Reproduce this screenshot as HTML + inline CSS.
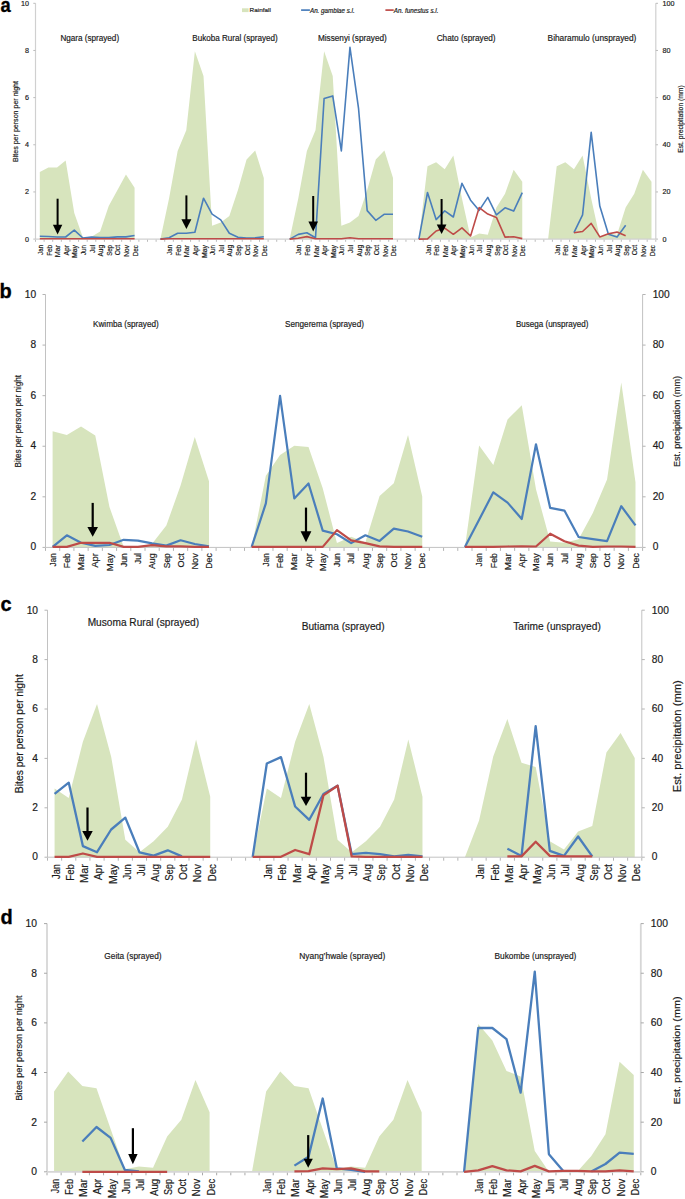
<!DOCTYPE html>
<html><head><meta charset="utf-8"><title>Figure</title>
<style>
html,body{margin:0;padding:0;background:#fff;}
body{width:685px;height:1199px;overflow:hidden;}
svg{display:block;font-family:"Liberation Sans",sans-serif;}
text{stroke:#1a1a1a;stroke-width:0.18px;paint-order:stroke;}
text.lbl{stroke:#000;stroke-width:0.3px;}
</style></head><body>
<svg width="685" height="1199" viewBox="0 0 685 1199">
<rect width="685" height="1199" fill="#fff"/>
<polygon fill="#d7e4bd" points="39.81,239.1 39.81,171.9 48.42,167.5 57.04,167.5 65.65,160.5 74.27,213 82.88,237.6 91.5,236.7 100.11,231.5 108.73,206 117.35,190.3 125.96,174.5 134.58,187.7 134.58,239.1"/>
<polygon fill="#d7e4bd" points="160.42,239.1 169.04,198.6 177.65,150.9 186.27,130.3 194.88,51.2 203.5,76.1 212.11,225.7 220.73,222.5 229.34,216 237.96,190 246.57,159.6 255.19,150.5 263.8,178 263.8,239.1"/>
<polygon fill="#d7e4bd" points="289.65,239.1 298.27,198.6 306.88,150.9 315.5,130.3 324.11,51.2 332.73,76.1 341.34,225.7 349.96,222.5 358.57,216 367.19,190 375.8,159.6 384.42,150.5 393.03,178 393.03,239.1"/>
<polygon fill="#d7e4bd" points="418.88,239.1 427.5,166.2 436.11,162.3 444.73,169.3 453.34,155.4 461.96,198.5 470.57,237.5 479.19,233.6 487.8,234.7 496.42,207.6 505.03,193.7 513.65,169.7 522.26,181.8 522.26,239.1"/>
<polygon fill="#d7e4bd" points="548.11,239.1 556.72,166.2 565.34,162.3 573.95,169.3 582.57,155.4 591.19,198.5 599.8,237.5 608.42,233.6 617.03,234.7 625.65,207.6 634.26,193.7 642.88,169.7 651.49,181.8 651.49,239.1"/>
<g stroke="#d0d0d0" stroke-width="1.2" fill="none">
<line x1="35.5" y1="3.3" x2="35.5" y2="239.1"/>
<line x1="655.8" y1="3.3" x2="655.8" y2="239.1"/>
<line x1="35.5" y1="239.1" x2="655.8" y2="239.1"/>
</g><g stroke="#bcbcbc" stroke-width="1" fill="none">
<line x1="33.3" y1="239.1" x2="35.5" y2="239.1"/>
<line x1="655.8" y1="239.1" x2="658" y2="239.1"/>
<line x1="33.3" y1="191.94" x2="35.5" y2="191.94"/>
<line x1="655.8" y1="191.94" x2="658" y2="191.94"/>
<line x1="33.3" y1="144.78" x2="35.5" y2="144.78"/>
<line x1="655.8" y1="144.78" x2="658" y2="144.78"/>
<line x1="33.3" y1="97.62" x2="35.5" y2="97.62"/>
<line x1="655.8" y1="97.62" x2="658" y2="97.62"/>
<line x1="33.3" y1="50.46" x2="35.5" y2="50.46"/>
<line x1="655.8" y1="50.46" x2="658" y2="50.46"/>
<line x1="33.3" y1="3.3" x2="35.5" y2="3.3"/>
<line x1="655.8" y1="3.3" x2="658" y2="3.3"/>
<line x1="35.5" y1="239.7" x2="35.5" y2="241.8"/>
<line x1="44.12" y1="239.7" x2="44.12" y2="241.8"/>
<line x1="52.73" y1="239.7" x2="52.73" y2="241.8"/>
<line x1="61.35" y1="239.7" x2="61.35" y2="241.8"/>
<line x1="69.96" y1="239.7" x2="69.96" y2="241.8"/>
<line x1="78.58" y1="239.7" x2="78.58" y2="241.8"/>
<line x1="87.19" y1="239.7" x2="87.19" y2="241.8"/>
<line x1="95.81" y1="239.7" x2="95.81" y2="241.8"/>
<line x1="104.42" y1="239.7" x2="104.42" y2="241.8"/>
<line x1="113.04" y1="239.7" x2="113.04" y2="241.8"/>
<line x1="121.65" y1="239.7" x2="121.65" y2="241.8"/>
<line x1="130.27" y1="239.7" x2="130.27" y2="241.8"/>
<line x1="138.88" y1="239.7" x2="138.88" y2="241.8"/>
<line x1="147.5" y1="239.7" x2="147.5" y2="241.8"/>
<line x1="156.11" y1="239.7" x2="156.11" y2="241.8"/>
<line x1="164.73" y1="239.7" x2="164.73" y2="241.8"/>
<line x1="173.34" y1="239.7" x2="173.34" y2="241.8"/>
<line x1="181.96" y1="239.7" x2="181.96" y2="241.8"/>
<line x1="190.57" y1="239.7" x2="190.57" y2="241.8"/>
<line x1="199.19" y1="239.7" x2="199.19" y2="241.8"/>
<line x1="207.81" y1="239.7" x2="207.81" y2="241.8"/>
<line x1="216.42" y1="239.7" x2="216.42" y2="241.8"/>
<line x1="225.04" y1="239.7" x2="225.04" y2="241.8"/>
<line x1="233.65" y1="239.7" x2="233.65" y2="241.8"/>
<line x1="242.27" y1="239.7" x2="242.27" y2="241.8"/>
<line x1="250.88" y1="239.7" x2="250.88" y2="241.8"/>
<line x1="259.5" y1="239.7" x2="259.5" y2="241.8"/>
<line x1="268.11" y1="239.7" x2="268.11" y2="241.8"/>
<line x1="276.73" y1="239.7" x2="276.73" y2="241.8"/>
<line x1="285.34" y1="239.7" x2="285.34" y2="241.8"/>
<line x1="293.96" y1="239.7" x2="293.96" y2="241.8"/>
<line x1="302.57" y1="239.7" x2="302.57" y2="241.8"/>
<line x1="311.19" y1="239.7" x2="311.19" y2="241.8"/>
<line x1="319.8" y1="239.7" x2="319.8" y2="241.8"/>
<line x1="328.42" y1="239.7" x2="328.42" y2="241.8"/>
<line x1="337.03" y1="239.7" x2="337.03" y2="241.8"/>
<line x1="345.65" y1="239.7" x2="345.65" y2="241.8"/>
<line x1="354.27" y1="239.7" x2="354.27" y2="241.8"/>
<line x1="362.88" y1="239.7" x2="362.88" y2="241.8"/>
<line x1="371.5" y1="239.7" x2="371.5" y2="241.8"/>
<line x1="380.11" y1="239.7" x2="380.11" y2="241.8"/>
<line x1="388.73" y1="239.7" x2="388.73" y2="241.8"/>
<line x1="397.34" y1="239.7" x2="397.34" y2="241.8"/>
<line x1="405.96" y1="239.7" x2="405.96" y2="241.8"/>
<line x1="414.57" y1="239.7" x2="414.57" y2="241.8"/>
<line x1="423.19" y1="239.7" x2="423.19" y2="241.8"/>
<line x1="431.8" y1="239.7" x2="431.8" y2="241.8"/>
<line x1="440.42" y1="239.7" x2="440.42" y2="241.8"/>
<line x1="449.03" y1="239.7" x2="449.03" y2="241.8"/>
<line x1="457.65" y1="239.7" x2="457.65" y2="241.8"/>
<line x1="466.26" y1="239.7" x2="466.26" y2="241.8"/>
<line x1="474.88" y1="239.7" x2="474.88" y2="241.8"/>
<line x1="483.49" y1="239.7" x2="483.49" y2="241.8"/>
<line x1="492.11" y1="239.7" x2="492.11" y2="241.8"/>
<line x1="500.72" y1="239.7" x2="500.72" y2="241.8"/>
<line x1="509.34" y1="239.7" x2="509.34" y2="241.8"/>
<line x1="517.96" y1="239.7" x2="517.96" y2="241.8"/>
<line x1="526.57" y1="239.7" x2="526.57" y2="241.8"/>
<line x1="535.19" y1="239.7" x2="535.19" y2="241.8"/>
<line x1="543.8" y1="239.7" x2="543.8" y2="241.8"/>
<line x1="552.42" y1="239.7" x2="552.42" y2="241.8"/>
<line x1="561.03" y1="239.7" x2="561.03" y2="241.8"/>
<line x1="569.65" y1="239.7" x2="569.65" y2="241.8"/>
<line x1="578.26" y1="239.7" x2="578.26" y2="241.8"/>
<line x1="586.88" y1="239.7" x2="586.88" y2="241.8"/>
<line x1="595.49" y1="239.7" x2="595.49" y2="241.8"/>
<line x1="604.11" y1="239.7" x2="604.11" y2="241.8"/>
<line x1="612.72" y1="239.7" x2="612.72" y2="241.8"/>
<line x1="621.34" y1="239.7" x2="621.34" y2="241.8"/>
<line x1="629.95" y1="239.7" x2="629.95" y2="241.8"/>
<line x1="638.57" y1="239.7" x2="638.57" y2="241.8"/>
<line x1="647.18" y1="239.7" x2="647.18" y2="241.8"/>
<line x1="655.8" y1="239.7" x2="655.8" y2="241.8"/>
</g>
<polyline fill="none" stroke="#4a7ebb" stroke-width="1.6" stroke-linejoin="round" points="39.81,236.2 48.42,236.5 57.04,237 65.65,237 74.27,230.2 82.88,238 91.5,237 100.11,237.6 108.73,237.6 117.35,236.9 125.96,236.9 134.58,235.5"/>
<polyline fill="none" stroke="#4a7ebb" stroke-width="1.6" stroke-linejoin="round" points="160.42,239.1 169.04,237.7 177.65,233.3 186.27,233.3 194.88,232.2 203.5,198.2 212.11,214.2 220.73,219.9 229.34,233.3 237.96,237.2 246.57,238.1 255.19,237.7 263.8,236.8"/>
<polyline fill="none" stroke="#4a7ebb" stroke-width="1.6" stroke-linejoin="round" points="289.65,239.1 298.27,234.4 306.88,232.7 315.5,237.7 324.11,98.5 332.73,95.9 341.34,150.9 349.96,47.3 358.57,108.7 367.19,210.6 375.8,220.3 384.42,214.2 393.03,214.2"/>
<polyline fill="none" stroke="#4a7ebb" stroke-width="1.6" stroke-linejoin="round" points="418.88,239.1 427.5,192.5 436.11,219.6 444.73,210.9 453.34,217 461.96,183.3 470.57,200.2 479.19,210.4 487.8,197.4 496.42,214.8 505.03,207.8 513.65,211.1 522.26,192.7"/>
<polyline fill="none" stroke="#4a7ebb" stroke-width="1.6" stroke-linejoin="round" points="573.95,232.7 582.57,214.8 591.19,132.4 599.8,206.1 608.42,234.3 617.03,237.1 625.65,225.2"/>
<polyline fill="none" stroke="#be4b48" stroke-width="1.6" stroke-linejoin="round" points="39.81,238.8 48.42,238.8 57.04,238.8 65.65,238.8 74.27,238.8 82.88,238.8 91.5,238.8 100.11,238.8 108.73,238.8 117.35,238.8 125.96,238.8 134.58,238.8"/>
<polyline fill="none" stroke="#be4b48" stroke-width="1.6" stroke-linejoin="round" points="160.42,239.1 169.04,238.8 177.65,238.8 186.27,238.8 194.88,238.8 203.5,238.8 212.11,238.8 220.73,238.8 229.34,238.8 237.96,238.8 246.57,238.8 255.19,238.8 263.8,238.8"/>
<polyline fill="none" stroke="#be4b48" stroke-width="1.6" stroke-linejoin="round" points="289.65,239.1 298.27,238.3 306.88,236.6 315.5,238.7 324.11,238.7 332.73,238.7 341.34,238.7 349.96,237.7 358.57,238.7 367.19,238.7 375.8,238.7 384.42,238.7 393.03,238.7"/>
<polyline fill="none" stroke="#be4b48" stroke-width="1.6" stroke-linejoin="round" points="418.88,239.1 427.5,238.9 436.11,231 444.73,228.2 453.34,234.3 461.96,227.8 470.57,236 479.19,207.6 487.8,214.1 496.42,217.4 505.03,237.1 513.65,236.7 522.26,238.6"/>
<polyline fill="none" stroke="#be4b48" stroke-width="1.6" stroke-linejoin="round" points="573.95,232.7 582.57,231.5 591.19,223.4 599.8,236.9 608.42,233.8 617.03,232.1 625.65,235.8"/>
<rect x="56.6" y="198.7" width="2" height="27.1" fill="#000"/>
<polygon fill="#000" points="52.9,224.8 62.3,224.8 57.6,234.5"/>
<rect x="185.4" y="195.4" width="2" height="24.8" fill="#000"/>
<polygon fill="#000" points="181.4,219.2 191.4,219.2 186.4,229"/>
<rect x="312.2" y="196" width="2" height="26.4" fill="#000"/>
<polygon fill="#000" points="308.4,221.4 318,221.4 313.2,231.6"/>
<rect x="440.6" y="199" width="2" height="26.5" fill="#000"/>
<polygon fill="#000" points="436.75,224.5 446.45,224.5 441.6,234.1"/>
<text x="29.1" y="239.1" font-size="7.2" text-anchor="end" dominant-baseline="central" fill="#1a1a1a">0</text>
<text x="662.5" y="239.1" font-size="7.2" text-anchor="start" dominant-baseline="central" fill="#1a1a1a">0</text>
<text x="29.1" y="191.94" font-size="7.2" text-anchor="end" dominant-baseline="central" fill="#1a1a1a">2</text>
<text x="662.5" y="191.94" font-size="7.2" text-anchor="start" dominant-baseline="central" fill="#1a1a1a">20</text>
<text x="29.1" y="144.78" font-size="7.2" text-anchor="end" dominant-baseline="central" fill="#1a1a1a">4</text>
<text x="662.5" y="144.78" font-size="7.2" text-anchor="start" dominant-baseline="central" fill="#1a1a1a">40</text>
<text x="29.1" y="97.62" font-size="7.2" text-anchor="end" dominant-baseline="central" fill="#1a1a1a">6</text>
<text x="662.5" y="97.62" font-size="7.2" text-anchor="start" dominant-baseline="central" fill="#1a1a1a">60</text>
<text x="29.1" y="50.46" font-size="7.2" text-anchor="end" dominant-baseline="central" fill="#1a1a1a">8</text>
<text x="662.5" y="50.46" font-size="7.2" text-anchor="start" dominant-baseline="central" fill="#1a1a1a">80</text>
<text x="29.1" y="3.3" font-size="7.2" text-anchor="end" dominant-baseline="central" fill="#1a1a1a">10</text>
<text x="662.5" y="3.3" font-size="7.2" text-anchor="start" dominant-baseline="central" fill="#1a1a1a">100</text>
<text transform="translate(40.91,245) rotate(-90)" font-size="7.1" text-anchor="end" dominant-baseline="central" textLength="9.66" lengthAdjust="spacingAndGlyphs" fill="#1a1a1a">Jan</text>
<text transform="translate(49.52,245) rotate(-90)" font-size="7.1" text-anchor="end" dominant-baseline="central" textLength="10.82" lengthAdjust="spacingAndGlyphs" fill="#1a1a1a">Feb</text>
<text transform="translate(58.14,245) rotate(-90)" font-size="7.1" text-anchor="end" dominant-baseline="central" textLength="12.29" lengthAdjust="spacingAndGlyphs" fill="#1a1a1a">Mar</text>
<text transform="translate(66.75,245) rotate(-90)" font-size="7.1" text-anchor="end" dominant-baseline="central" textLength="10.61" lengthAdjust="spacingAndGlyphs" fill="#1a1a1a">Apr</text>
<text transform="translate(75.37,245) rotate(-90)" font-size="7.1" text-anchor="end" dominant-baseline="central" textLength="13.05" lengthAdjust="spacingAndGlyphs" fill="#1a1a1a">May</text>
<text transform="translate(83.98,245) rotate(-90)" font-size="7.1" text-anchor="end" dominant-baseline="central" textLength="9.99" lengthAdjust="spacingAndGlyphs" fill="#1a1a1a">Jun</text>
<text transform="translate(92.6,245) rotate(-90)" font-size="7.1" text-anchor="end" dominant-baseline="central" textLength="7.83" lengthAdjust="spacingAndGlyphs" fill="#1a1a1a">Jul</text>
<text transform="translate(101.21,245) rotate(-90)" font-size="7.1" text-anchor="end" dominant-baseline="central" textLength="11.5" lengthAdjust="spacingAndGlyphs" fill="#1a1a1a">Aug</text>
<text transform="translate(109.83,245) rotate(-90)" font-size="7.1" text-anchor="end" dominant-baseline="central" textLength="10.82" lengthAdjust="spacingAndGlyphs" fill="#1a1a1a">Sep</text>
<text transform="translate(118.45,245) rotate(-90)" font-size="7.1" text-anchor="end" dominant-baseline="central" textLength="10.37" lengthAdjust="spacingAndGlyphs" fill="#1a1a1a">Oct</text>
<text transform="translate(127.06,245) rotate(-90)" font-size="7.1" text-anchor="end" dominant-baseline="central" textLength="11.86" lengthAdjust="spacingAndGlyphs" fill="#1a1a1a">Nov</text>
<text transform="translate(135.68,245) rotate(-90)" font-size="7.1" text-anchor="end" dominant-baseline="central" textLength="11.21" lengthAdjust="spacingAndGlyphs" fill="#1a1a1a">Dec</text>
<text transform="translate(170.14,245) rotate(-90)" font-size="7.1" text-anchor="end" dominant-baseline="central" textLength="9.66" lengthAdjust="spacingAndGlyphs" fill="#1a1a1a">Jan</text>
<text transform="translate(178.75,245) rotate(-90)" font-size="7.1" text-anchor="end" dominant-baseline="central" textLength="10.82" lengthAdjust="spacingAndGlyphs" fill="#1a1a1a">Feb</text>
<text transform="translate(187.37,245) rotate(-90)" font-size="7.1" text-anchor="end" dominant-baseline="central" textLength="12.29" lengthAdjust="spacingAndGlyphs" fill="#1a1a1a">Mar</text>
<text transform="translate(195.98,245) rotate(-90)" font-size="7.1" text-anchor="end" dominant-baseline="central" textLength="10.61" lengthAdjust="spacingAndGlyphs" fill="#1a1a1a">Apr</text>
<text transform="translate(204.6,245) rotate(-90)" font-size="7.1" text-anchor="end" dominant-baseline="central" textLength="13.05" lengthAdjust="spacingAndGlyphs" fill="#1a1a1a">May</text>
<text transform="translate(213.21,245) rotate(-90)" font-size="7.1" text-anchor="end" dominant-baseline="central" textLength="9.99" lengthAdjust="spacingAndGlyphs" fill="#1a1a1a">Jun</text>
<text transform="translate(221.83,245) rotate(-90)" font-size="7.1" text-anchor="end" dominant-baseline="central" textLength="7.83" lengthAdjust="spacingAndGlyphs" fill="#1a1a1a">Jul</text>
<text transform="translate(230.44,245) rotate(-90)" font-size="7.1" text-anchor="end" dominant-baseline="central" textLength="11.5" lengthAdjust="spacingAndGlyphs" fill="#1a1a1a">Aug</text>
<text transform="translate(239.06,245) rotate(-90)" font-size="7.1" text-anchor="end" dominant-baseline="central" textLength="10.82" lengthAdjust="spacingAndGlyphs" fill="#1a1a1a">Sep</text>
<text transform="translate(247.67,245) rotate(-90)" font-size="7.1" text-anchor="end" dominant-baseline="central" textLength="10.37" lengthAdjust="spacingAndGlyphs" fill="#1a1a1a">Oct</text>
<text transform="translate(256.29,245) rotate(-90)" font-size="7.1" text-anchor="end" dominant-baseline="central" textLength="11.86" lengthAdjust="spacingAndGlyphs" fill="#1a1a1a">Nov</text>
<text transform="translate(264.9,245) rotate(-90)" font-size="7.1" text-anchor="end" dominant-baseline="central" textLength="11.21" lengthAdjust="spacingAndGlyphs" fill="#1a1a1a">Dec</text>
<text transform="translate(299.37,245) rotate(-90)" font-size="7.1" text-anchor="end" dominant-baseline="central" textLength="9.66" lengthAdjust="spacingAndGlyphs" fill="#1a1a1a">Jan</text>
<text transform="translate(307.98,245) rotate(-90)" font-size="7.1" text-anchor="end" dominant-baseline="central" textLength="10.82" lengthAdjust="spacingAndGlyphs" fill="#1a1a1a">Feb</text>
<text transform="translate(316.6,245) rotate(-90)" font-size="7.1" text-anchor="end" dominant-baseline="central" textLength="12.29" lengthAdjust="spacingAndGlyphs" fill="#1a1a1a">Mar</text>
<text transform="translate(325.21,245) rotate(-90)" font-size="7.1" text-anchor="end" dominant-baseline="central" textLength="10.61" lengthAdjust="spacingAndGlyphs" fill="#1a1a1a">Apr</text>
<text transform="translate(333.83,245) rotate(-90)" font-size="7.1" text-anchor="end" dominant-baseline="central" textLength="13.05" lengthAdjust="spacingAndGlyphs" fill="#1a1a1a">May</text>
<text transform="translate(342.44,245) rotate(-90)" font-size="7.1" text-anchor="end" dominant-baseline="central" textLength="9.99" lengthAdjust="spacingAndGlyphs" fill="#1a1a1a">Jun</text>
<text transform="translate(351.06,245) rotate(-90)" font-size="7.1" text-anchor="end" dominant-baseline="central" textLength="7.83" lengthAdjust="spacingAndGlyphs" fill="#1a1a1a">Jul</text>
<text transform="translate(359.67,245) rotate(-90)" font-size="7.1" text-anchor="end" dominant-baseline="central" textLength="11.5" lengthAdjust="spacingAndGlyphs" fill="#1a1a1a">Aug</text>
<text transform="translate(368.29,245) rotate(-90)" font-size="7.1" text-anchor="end" dominant-baseline="central" textLength="10.82" lengthAdjust="spacingAndGlyphs" fill="#1a1a1a">Sep</text>
<text transform="translate(376.9,245) rotate(-90)" font-size="7.1" text-anchor="end" dominant-baseline="central" textLength="10.37" lengthAdjust="spacingAndGlyphs" fill="#1a1a1a">Oct</text>
<text transform="translate(385.52,245) rotate(-90)" font-size="7.1" text-anchor="end" dominant-baseline="central" textLength="11.86" lengthAdjust="spacingAndGlyphs" fill="#1a1a1a">Nov</text>
<text transform="translate(394.13,245) rotate(-90)" font-size="7.1" text-anchor="end" dominant-baseline="central" textLength="11.21" lengthAdjust="spacingAndGlyphs" fill="#1a1a1a">Dec</text>
<text transform="translate(428.6,245) rotate(-90)" font-size="7.1" text-anchor="end" dominant-baseline="central" textLength="9.66" lengthAdjust="spacingAndGlyphs" fill="#1a1a1a">Jan</text>
<text transform="translate(437.21,245) rotate(-90)" font-size="7.1" text-anchor="end" dominant-baseline="central" textLength="10.82" lengthAdjust="spacingAndGlyphs" fill="#1a1a1a">Feb</text>
<text transform="translate(445.83,245) rotate(-90)" font-size="7.1" text-anchor="end" dominant-baseline="central" textLength="12.29" lengthAdjust="spacingAndGlyphs" fill="#1a1a1a">Mar</text>
<text transform="translate(454.44,245) rotate(-90)" font-size="7.1" text-anchor="end" dominant-baseline="central" textLength="10.61" lengthAdjust="spacingAndGlyphs" fill="#1a1a1a">Apr</text>
<text transform="translate(463.06,245) rotate(-90)" font-size="7.1" text-anchor="end" dominant-baseline="central" textLength="13.05" lengthAdjust="spacingAndGlyphs" fill="#1a1a1a">May</text>
<text transform="translate(471.67,245) rotate(-90)" font-size="7.1" text-anchor="end" dominant-baseline="central" textLength="9.99" lengthAdjust="spacingAndGlyphs" fill="#1a1a1a">Jun</text>
<text transform="translate(480.29,245) rotate(-90)" font-size="7.1" text-anchor="end" dominant-baseline="central" textLength="7.83" lengthAdjust="spacingAndGlyphs" fill="#1a1a1a">Jul</text>
<text transform="translate(488.9,245) rotate(-90)" font-size="7.1" text-anchor="end" dominant-baseline="central" textLength="11.5" lengthAdjust="spacingAndGlyphs" fill="#1a1a1a">Aug</text>
<text transform="translate(497.52,245) rotate(-90)" font-size="7.1" text-anchor="end" dominant-baseline="central" textLength="10.82" lengthAdjust="spacingAndGlyphs" fill="#1a1a1a">Sep</text>
<text transform="translate(506.13,245) rotate(-90)" font-size="7.1" text-anchor="end" dominant-baseline="central" textLength="10.37" lengthAdjust="spacingAndGlyphs" fill="#1a1a1a">Oct</text>
<text transform="translate(514.75,245) rotate(-90)" font-size="7.1" text-anchor="end" dominant-baseline="central" textLength="11.86" lengthAdjust="spacingAndGlyphs" fill="#1a1a1a">Nov</text>
<text transform="translate(523.36,245) rotate(-90)" font-size="7.1" text-anchor="end" dominant-baseline="central" textLength="11.21" lengthAdjust="spacingAndGlyphs" fill="#1a1a1a">Dec</text>
<text transform="translate(557.82,245) rotate(-90)" font-size="7.1" text-anchor="end" dominant-baseline="central" textLength="9.66" lengthAdjust="spacingAndGlyphs" fill="#1a1a1a">Jan</text>
<text transform="translate(566.44,245) rotate(-90)" font-size="7.1" text-anchor="end" dominant-baseline="central" textLength="10.82" lengthAdjust="spacingAndGlyphs" fill="#1a1a1a">Feb</text>
<text transform="translate(575.05,245) rotate(-90)" font-size="7.1" text-anchor="end" dominant-baseline="central" textLength="12.29" lengthAdjust="spacingAndGlyphs" fill="#1a1a1a">Mar</text>
<text transform="translate(583.67,245) rotate(-90)" font-size="7.1" text-anchor="end" dominant-baseline="central" textLength="10.61" lengthAdjust="spacingAndGlyphs" fill="#1a1a1a">Apr</text>
<text transform="translate(592.29,245) rotate(-90)" font-size="7.1" text-anchor="end" dominant-baseline="central" textLength="13.05" lengthAdjust="spacingAndGlyphs" fill="#1a1a1a">May</text>
<text transform="translate(600.9,245) rotate(-90)" font-size="7.1" text-anchor="end" dominant-baseline="central" textLength="9.99" lengthAdjust="spacingAndGlyphs" fill="#1a1a1a">Jun</text>
<text transform="translate(609.52,245) rotate(-90)" font-size="7.1" text-anchor="end" dominant-baseline="central" textLength="7.83" lengthAdjust="spacingAndGlyphs" fill="#1a1a1a">Jul</text>
<text transform="translate(618.13,245) rotate(-90)" font-size="7.1" text-anchor="end" dominant-baseline="central" textLength="11.5" lengthAdjust="spacingAndGlyphs" fill="#1a1a1a">Aug</text>
<text transform="translate(626.75,245) rotate(-90)" font-size="7.1" text-anchor="end" dominant-baseline="central" textLength="10.82" lengthAdjust="spacingAndGlyphs" fill="#1a1a1a">Sep</text>
<text transform="translate(635.36,245) rotate(-90)" font-size="7.1" text-anchor="end" dominant-baseline="central" textLength="10.37" lengthAdjust="spacingAndGlyphs" fill="#1a1a1a">Oct</text>
<text transform="translate(643.98,245) rotate(-90)" font-size="7.1" text-anchor="end" dominant-baseline="central" textLength="11.86" lengthAdjust="spacingAndGlyphs" fill="#1a1a1a">Nov</text>
<text transform="translate(652.59,245) rotate(-90)" font-size="7.1" text-anchor="end" dominant-baseline="central" textLength="11.21" lengthAdjust="spacingAndGlyphs" fill="#1a1a1a">Dec</text>
<text x="60.4" y="41" font-size="8.3" textLength="58.7" lengthAdjust="spacingAndGlyphs" fill="#1a1a1a">Ngara (sprayed)</text>
<text x="192.3" y="41" font-size="8.3" textLength="85.5" lengthAdjust="spacingAndGlyphs" fill="#1a1a1a">Bukoba Rural (sprayed)</text>
<text x="317.9" y="41" font-size="8.3" textLength="68.9" lengthAdjust="spacingAndGlyphs" fill="#1a1a1a">Missenyi (sprayed)</text>
<text x="436.7" y="41" font-size="8.3" textLength="58.9" lengthAdjust="spacingAndGlyphs" fill="#1a1a1a">Chato (sprayed)</text>
<text x="547.6" y="41" font-size="8.3" textLength="88.8" lengthAdjust="spacingAndGlyphs" fill="#1a1a1a">Biharamulo (unsprayed)</text>
<text transform="translate(15.5,121.5) rotate(-90)" font-size="6.6" text-anchor="middle" dominant-baseline="central" textLength="81" lengthAdjust="spacingAndGlyphs" fill="#1a1a1a">Bites per person per night</text>
<text transform="translate(680.7,119) rotate(-90)" font-size="7" text-anchor="middle" dominant-baseline="central" textLength="67.5" lengthAdjust="spacingAndGlyphs" fill="#1a1a1a">Est. precipitation (mm)</text>
<text class="lbl" x="0.5" y="12" font-size="20" font-weight="bold" fill="#000" textLength="10.2" lengthAdjust="spacingAndGlyphs">a</text>
<polygon fill="#d7e4bd" points="52.61,547.4 52.61,431.3 66.83,434.9 81.04,426.6 95.26,435.5 109.47,507 123.69,546.9 137.91,546.9 152.12,543.7 166.34,525.6 180.56,485.4 194.78,436.9 208.99,481.2 208.99,547.4"/>
<polygon fill="#d7e4bd" points="251.64,547.4 265.86,475.7 280.07,454.9 294.29,445.7 308.51,447.1 322.73,488.2 336.94,543.1 351.16,536.7 365.38,542.3 379.59,496 393.81,483.2 408.02,434.9 422.24,496.5 422.24,547.4"/>
<polygon fill="#d7e4bd" points="464.89,547.4 479.11,445.5 493.32,465.1 507.54,419.4 521.76,405.2 535.98,489.3 550.19,541.4 564.41,542.8 578.62,539.2 592.84,512.9 607.06,479.6 621.27,382.5 635.49,482.3 635.49,547.4"/>
<g stroke="#c2c2c2" stroke-width="1" fill="none">
<line x1="45.5" y1="294.5" x2="45.5" y2="547.4"/>
<line x1="642.6" y1="294.5" x2="642.6" y2="547.4"/>
<line x1="45.5" y1="547.4" x2="642.6" y2="547.4"/>
</g><g stroke="#b4b4b4" stroke-width="1" fill="none">
<line x1="42.5" y1="547.4" x2="45.5" y2="547.4"/>
<line x1="642.6" y1="547.4" x2="645.6" y2="547.4"/>
<line x1="42.5" y1="496.82" x2="45.5" y2="496.82"/>
<line x1="642.6" y1="496.82" x2="645.6" y2="496.82"/>
<line x1="42.5" y1="446.24" x2="45.5" y2="446.24"/>
<line x1="642.6" y1="446.24" x2="645.6" y2="446.24"/>
<line x1="42.5" y1="395.66" x2="45.5" y2="395.66"/>
<line x1="642.6" y1="395.66" x2="645.6" y2="395.66"/>
<line x1="42.5" y1="345.08" x2="45.5" y2="345.08"/>
<line x1="642.6" y1="345.08" x2="645.6" y2="345.08"/>
<line x1="42.5" y1="294.5" x2="45.5" y2="294.5"/>
<line x1="642.6" y1="294.5" x2="645.6" y2="294.5"/>
<line x1="45.5" y1="547.9" x2="45.5" y2="550.9"/>
<line x1="59.72" y1="547.9" x2="59.72" y2="550.9"/>
<line x1="73.93" y1="547.9" x2="73.93" y2="550.9"/>
<line x1="88.15" y1="547.9" x2="88.15" y2="550.9"/>
<line x1="102.37" y1="547.9" x2="102.37" y2="550.9"/>
<line x1="116.58" y1="547.9" x2="116.58" y2="550.9"/>
<line x1="130.8" y1="547.9" x2="130.8" y2="550.9"/>
<line x1="145.02" y1="547.9" x2="145.02" y2="550.9"/>
<line x1="159.23" y1="547.9" x2="159.23" y2="550.9"/>
<line x1="173.45" y1="547.9" x2="173.45" y2="550.9"/>
<line x1="187.67" y1="547.9" x2="187.67" y2="550.9"/>
<line x1="201.88" y1="547.9" x2="201.88" y2="550.9"/>
<line x1="216.1" y1="547.9" x2="216.1" y2="550.9"/>
<line x1="230.32" y1="547.9" x2="230.32" y2="550.9"/>
<line x1="244.53" y1="547.9" x2="244.53" y2="550.9"/>
<line x1="258.75" y1="547.9" x2="258.75" y2="550.9"/>
<line x1="272.97" y1="547.9" x2="272.97" y2="550.9"/>
<line x1="287.18" y1="547.9" x2="287.18" y2="550.9"/>
<line x1="301.4" y1="547.9" x2="301.4" y2="550.9"/>
<line x1="315.62" y1="547.9" x2="315.62" y2="550.9"/>
<line x1="329.83" y1="547.9" x2="329.83" y2="550.9"/>
<line x1="344.05" y1="547.9" x2="344.05" y2="550.9"/>
<line x1="358.27" y1="547.9" x2="358.27" y2="550.9"/>
<line x1="372.48" y1="547.9" x2="372.48" y2="550.9"/>
<line x1="386.7" y1="547.9" x2="386.7" y2="550.9"/>
<line x1="400.92" y1="547.9" x2="400.92" y2="550.9"/>
<line x1="415.13" y1="547.9" x2="415.13" y2="550.9"/>
<line x1="429.35" y1="547.9" x2="429.35" y2="550.9"/>
<line x1="443.57" y1="547.9" x2="443.57" y2="550.9"/>
<line x1="457.78" y1="547.9" x2="457.78" y2="550.9"/>
<line x1="472" y1="547.9" x2="472" y2="550.9"/>
<line x1="486.22" y1="547.9" x2="486.22" y2="550.9"/>
<line x1="500.43" y1="547.9" x2="500.43" y2="550.9"/>
<line x1="514.65" y1="547.9" x2="514.65" y2="550.9"/>
<line x1="528.87" y1="547.9" x2="528.87" y2="550.9"/>
<line x1="543.08" y1="547.9" x2="543.08" y2="550.9"/>
<line x1="557.3" y1="547.9" x2="557.3" y2="550.9"/>
<line x1="571.52" y1="547.9" x2="571.52" y2="550.9"/>
<line x1="585.73" y1="547.9" x2="585.73" y2="550.9"/>
<line x1="599.95" y1="547.9" x2="599.95" y2="550.9"/>
<line x1="614.17" y1="547.9" x2="614.17" y2="550.9"/>
<line x1="628.38" y1="547.9" x2="628.38" y2="550.9"/>
<line x1="642.6" y1="547.9" x2="642.6" y2="550.9"/>
</g>
<polyline fill="none" stroke="#4a7ebb" stroke-width="2.2" stroke-linejoin="round" points="52.61,546.9 66.83,535.3 81.04,542.8 95.26,545.9 109.47,545 123.69,539.8 137.91,540.6 152.12,543.4 166.34,545.6 180.56,540.3 194.78,544 208.99,546.4"/>
<polyline fill="none" stroke="#4a7ebb" stroke-width="2.2" stroke-linejoin="round" points="251.64,546.9 265.86,503.4 280.07,395.8 294.29,498.4 308.51,483.5 322.73,530.6 336.94,534.2 351.16,543.1 365.38,535.3 379.59,540.9 393.81,528.7 408.02,531.5 422.24,536.7"/>
<polyline fill="none" stroke="#4a7ebb" stroke-width="2.2" stroke-linejoin="round" points="464.89,546.9 479.11,519.8 493.32,492.3 507.54,502.6 521.76,519 535.98,444.3 550.19,507.9 564.41,510.6 578.62,537 592.84,539.2 607.06,541.2 621.27,506.2 635.49,525.3"/>
<polyline fill="none" stroke="#be4b48" stroke-width="2.2" stroke-linejoin="round" points="52.61,546.9 66.83,546.9 81.04,542.8 95.26,542.8 109.47,542.8 123.69,546.9 137.91,546.9 152.12,545.2 166.34,546.4 180.56,546.4 194.78,546.9 208.99,546.9"/>
<polyline fill="none" stroke="#be4b48" stroke-width="2.2" stroke-linejoin="round" points="251.64,546.9 265.86,546.9 280.07,546.9 294.29,546.9 308.51,546.9 322.73,546.9 336.94,530.1 351.16,540.3 365.38,543.1 379.59,546.4 393.81,546.9 408.02,546.9 422.24,546.9"/>
<polyline fill="none" stroke="#be4b48" stroke-width="2.2" stroke-linejoin="round" points="464.89,546.9 479.11,546.9 493.32,546.9 507.54,546.5 521.76,546.3 535.98,546.5 550.19,533.7 564.41,541.2 578.62,545.6 592.84,546.9 607.06,546.5 621.27,546.5 635.49,546.9"/>
<rect x="91.6" y="502.9" width="2.2" height="25.1" fill="#000"/>
<polygon fill="#000" points="87.4,527 98,527 92.7,536.7"/>
<rect x="304.9" y="507.6" width="2.2" height="24.6" fill="#000"/>
<polygon fill="#000" points="300.6,531.2 311.4,531.2 306,542.3"/>
<text x="36.1" y="546.9" font-size="10.2" text-anchor="end" dominant-baseline="central" fill="#1a1a1a">0</text>
<text x="652.7" y="546.9" font-size="10.2" text-anchor="start" dominant-baseline="central" fill="#1a1a1a">0</text>
<text x="36.1" y="496.42" font-size="10.2" text-anchor="end" dominant-baseline="central" fill="#1a1a1a">2</text>
<text x="652.7" y="496.42" font-size="10.2" text-anchor="start" dominant-baseline="central" fill="#1a1a1a">20</text>
<text x="36.1" y="445.94" font-size="10.2" text-anchor="end" dominant-baseline="central" fill="#1a1a1a">4</text>
<text x="652.7" y="445.94" font-size="10.2" text-anchor="start" dominant-baseline="central" fill="#1a1a1a">40</text>
<text x="36.1" y="395.46" font-size="10.2" text-anchor="end" dominant-baseline="central" fill="#1a1a1a">6</text>
<text x="652.7" y="395.46" font-size="10.2" text-anchor="start" dominant-baseline="central" fill="#1a1a1a">60</text>
<text x="36.1" y="344.98" font-size="10.2" text-anchor="end" dominant-baseline="central" fill="#1a1a1a">8</text>
<text x="652.7" y="344.98" font-size="10.2" text-anchor="start" dominant-baseline="central" fill="#1a1a1a">80</text>
<text x="36.1" y="294.5" font-size="10.2" text-anchor="end" dominant-baseline="central" fill="#1a1a1a">10</text>
<text x="652.7" y="294.5" font-size="10.2" text-anchor="start" dominant-baseline="central" fill="#1a1a1a">100</text>
<text transform="translate(52.81,553.2) rotate(-90)" font-size="9.3" text-anchor="end" dominant-baseline="central" textLength="13.36" lengthAdjust="spacingAndGlyphs" fill="#1a1a1a">Jan</text>
<text transform="translate(67.03,553.2) rotate(-90)" font-size="9.3" text-anchor="end" dominant-baseline="central" textLength="14.97" lengthAdjust="spacingAndGlyphs" fill="#1a1a1a">Feb</text>
<text transform="translate(81.24,553.2) rotate(-90)" font-size="9.3" text-anchor="end" dominant-baseline="central" textLength="17" lengthAdjust="spacingAndGlyphs" fill="#1a1a1a">Mar</text>
<text transform="translate(95.46,553.2) rotate(-90)" font-size="9.3" text-anchor="end" dominant-baseline="central" textLength="14.68" lengthAdjust="spacingAndGlyphs" fill="#1a1a1a">Apr</text>
<text transform="translate(109.67,553.2) rotate(-90)" font-size="9.3" text-anchor="end" dominant-baseline="central" textLength="18.05" lengthAdjust="spacingAndGlyphs" fill="#1a1a1a">May</text>
<text transform="translate(123.89,553.2) rotate(-90)" font-size="9.3" text-anchor="end" dominant-baseline="central" textLength="13.83" lengthAdjust="spacingAndGlyphs" fill="#1a1a1a">Jun</text>
<text transform="translate(138.11,553.2) rotate(-90)" font-size="9.3" text-anchor="end" dominant-baseline="central" textLength="10.84" lengthAdjust="spacingAndGlyphs" fill="#1a1a1a">Jul</text>
<text transform="translate(152.32,553.2) rotate(-90)" font-size="9.3" text-anchor="end" dominant-baseline="central" textLength="15.91" lengthAdjust="spacingAndGlyphs" fill="#1a1a1a">Aug</text>
<text transform="translate(166.54,553.2) rotate(-90)" font-size="9.3" text-anchor="end" dominant-baseline="central" textLength="14.97" lengthAdjust="spacingAndGlyphs" fill="#1a1a1a">Sep</text>
<text transform="translate(180.76,553.2) rotate(-90)" font-size="9.3" text-anchor="end" dominant-baseline="central" textLength="14.34" lengthAdjust="spacingAndGlyphs" fill="#1a1a1a">Oct</text>
<text transform="translate(194.97,553.2) rotate(-90)" font-size="9.3" text-anchor="end" dominant-baseline="central" textLength="16.41" lengthAdjust="spacingAndGlyphs" fill="#1a1a1a">Nov</text>
<text transform="translate(209.19,553.2) rotate(-90)" font-size="9.3" text-anchor="end" dominant-baseline="central" textLength="15.51" lengthAdjust="spacingAndGlyphs" fill="#1a1a1a">Dec</text>
<text transform="translate(266.06,553.2) rotate(-90)" font-size="9.3" text-anchor="end" dominant-baseline="central" textLength="13.36" lengthAdjust="spacingAndGlyphs" fill="#1a1a1a">Jan</text>
<text transform="translate(280.27,553.2) rotate(-90)" font-size="9.3" text-anchor="end" dominant-baseline="central" textLength="14.97" lengthAdjust="spacingAndGlyphs" fill="#1a1a1a">Feb</text>
<text transform="translate(294.49,553.2) rotate(-90)" font-size="9.3" text-anchor="end" dominant-baseline="central" textLength="17" lengthAdjust="spacingAndGlyphs" fill="#1a1a1a">Mar</text>
<text transform="translate(308.71,553.2) rotate(-90)" font-size="9.3" text-anchor="end" dominant-baseline="central" textLength="14.68" lengthAdjust="spacingAndGlyphs" fill="#1a1a1a">Apr</text>
<text transform="translate(322.93,553.2) rotate(-90)" font-size="9.3" text-anchor="end" dominant-baseline="central" textLength="18.05" lengthAdjust="spacingAndGlyphs" fill="#1a1a1a">May</text>
<text transform="translate(337.14,553.2) rotate(-90)" font-size="9.3" text-anchor="end" dominant-baseline="central" textLength="13.83" lengthAdjust="spacingAndGlyphs" fill="#1a1a1a">Jun</text>
<text transform="translate(351.36,553.2) rotate(-90)" font-size="9.3" text-anchor="end" dominant-baseline="central" textLength="10.84" lengthAdjust="spacingAndGlyphs" fill="#1a1a1a">Jul</text>
<text transform="translate(365.57,553.2) rotate(-90)" font-size="9.3" text-anchor="end" dominant-baseline="central" textLength="15.91" lengthAdjust="spacingAndGlyphs" fill="#1a1a1a">Aug</text>
<text transform="translate(379.79,553.2) rotate(-90)" font-size="9.3" text-anchor="end" dominant-baseline="central" textLength="14.97" lengthAdjust="spacingAndGlyphs" fill="#1a1a1a">Sep</text>
<text transform="translate(394.01,553.2) rotate(-90)" font-size="9.3" text-anchor="end" dominant-baseline="central" textLength="14.34" lengthAdjust="spacingAndGlyphs" fill="#1a1a1a">Oct</text>
<text transform="translate(408.22,553.2) rotate(-90)" font-size="9.3" text-anchor="end" dominant-baseline="central" textLength="16.41" lengthAdjust="spacingAndGlyphs" fill="#1a1a1a">Nov</text>
<text transform="translate(422.44,553.2) rotate(-90)" font-size="9.3" text-anchor="end" dominant-baseline="central" textLength="15.51" lengthAdjust="spacingAndGlyphs" fill="#1a1a1a">Dec</text>
<text transform="translate(479.31,553.2) rotate(-90)" font-size="9.3" text-anchor="end" dominant-baseline="central" textLength="13.36" lengthAdjust="spacingAndGlyphs" fill="#1a1a1a">Jan</text>
<text transform="translate(493.52,553.2) rotate(-90)" font-size="9.3" text-anchor="end" dominant-baseline="central" textLength="14.97" lengthAdjust="spacingAndGlyphs" fill="#1a1a1a">Feb</text>
<text transform="translate(507.74,553.2) rotate(-90)" font-size="9.3" text-anchor="end" dominant-baseline="central" textLength="17" lengthAdjust="spacingAndGlyphs" fill="#1a1a1a">Mar</text>
<text transform="translate(521.96,553.2) rotate(-90)" font-size="9.3" text-anchor="end" dominant-baseline="central" textLength="14.68" lengthAdjust="spacingAndGlyphs" fill="#1a1a1a">Apr</text>
<text transform="translate(536.18,553.2) rotate(-90)" font-size="9.3" text-anchor="end" dominant-baseline="central" textLength="18.05" lengthAdjust="spacingAndGlyphs" fill="#1a1a1a">May</text>
<text transform="translate(550.39,553.2) rotate(-90)" font-size="9.3" text-anchor="end" dominant-baseline="central" textLength="13.83" lengthAdjust="spacingAndGlyphs" fill="#1a1a1a">Jun</text>
<text transform="translate(564.61,553.2) rotate(-90)" font-size="9.3" text-anchor="end" dominant-baseline="central" textLength="10.84" lengthAdjust="spacingAndGlyphs" fill="#1a1a1a">Jul</text>
<text transform="translate(578.83,553.2) rotate(-90)" font-size="9.3" text-anchor="end" dominant-baseline="central" textLength="15.91" lengthAdjust="spacingAndGlyphs" fill="#1a1a1a">Aug</text>
<text transform="translate(593.04,553.2) rotate(-90)" font-size="9.3" text-anchor="end" dominant-baseline="central" textLength="14.97" lengthAdjust="spacingAndGlyphs" fill="#1a1a1a">Sep</text>
<text transform="translate(607.26,553.2) rotate(-90)" font-size="9.3" text-anchor="end" dominant-baseline="central" textLength="14.34" lengthAdjust="spacingAndGlyphs" fill="#1a1a1a">Oct</text>
<text transform="translate(621.48,553.2) rotate(-90)" font-size="9.3" text-anchor="end" dominant-baseline="central" textLength="16.41" lengthAdjust="spacingAndGlyphs" fill="#1a1a1a">Nov</text>
<text transform="translate(635.69,553.2) rotate(-90)" font-size="9.3" text-anchor="end" dominant-baseline="central" textLength="15.51" lengthAdjust="spacingAndGlyphs" fill="#1a1a1a">Dec</text>
<text x="93" y="327.2" font-size="8.6" textLength="65.7" lengthAdjust="spacingAndGlyphs" fill="#1a1a1a">Kwimba (sprayed)</text>
<text x="285.1" y="327.2" font-size="8.6" textLength="78.8" lengthAdjust="spacingAndGlyphs" fill="#1a1a1a">Sengerema (sprayed)</text>
<text x="516" y="327.2" font-size="8.6" textLength="72.3" lengthAdjust="spacingAndGlyphs" fill="#1a1a1a">Busega (unsprayed)</text>
<text transform="translate(18.4,421.2) rotate(-90)" font-size="8.5" text-anchor="middle" dominant-baseline="central" textLength="92.4" lengthAdjust="spacingAndGlyphs" fill="#1a1a1a">Bites per person per night</text>
<text transform="translate(677.4,421.5) rotate(-90)" font-size="8.5" text-anchor="middle" dominant-baseline="central" textLength="91" lengthAdjust="spacingAndGlyphs" fill="#1a1a1a">Est. precipitation (mm)</text>
<text class="lbl" x="-0.6" y="298" font-size="20" font-weight="bold" fill="#000">b</text>
<polygon fill="#d7e4bd" points="54.58,857.2 54.58,788.4 68.72,798 82.88,741.8 97.02,704.1 111.17,756.7 125.32,839.8 139.47,852.3 153.62,841.2 167.77,826.8 181.92,799.6 196.07,739.4 210.22,796.8 210.22,857.2"/>
<polygon fill="#d7e4bd" points="252.67,857.2 266.82,788.4 280.97,798 295.12,741.8 309.27,704.1 323.42,756.7 337.57,839.8 351.72,852.3 365.87,841.2 380.02,826.8 394.17,799.6 408.32,739.4 422.47,796.8 422.47,857.2"/>
<polygon fill="#d7e4bd" points="464.92,857.2 479.07,820.4 493.22,756.6 507.37,719.1 521.52,762.7 535.67,767.1 549.82,841.2 563.97,849.5 578.12,831.5 592.27,825.9 606.42,752.4 620.57,733 634.72,758 634.72,857.2"/>
<g stroke="#c2c2c2" stroke-width="1" fill="none">
<line x1="47.5" y1="610.2" x2="47.5" y2="857.2"/>
<line x1="641.8" y1="610.2" x2="641.8" y2="857.2"/>
<line x1="47.5" y1="857.2" x2="641.8" y2="857.2"/>
</g><g stroke="#b4b4b4" stroke-width="1" fill="none">
<line x1="44.5" y1="857.2" x2="47.5" y2="857.2"/>
<line x1="641.8" y1="857.2" x2="644.8" y2="857.2"/>
<line x1="44.5" y1="807.8" x2="47.5" y2="807.8"/>
<line x1="641.8" y1="807.8" x2="644.8" y2="807.8"/>
<line x1="44.5" y1="758.4" x2="47.5" y2="758.4"/>
<line x1="641.8" y1="758.4" x2="644.8" y2="758.4"/>
<line x1="44.5" y1="709" x2="47.5" y2="709"/>
<line x1="641.8" y1="709" x2="644.8" y2="709"/>
<line x1="44.5" y1="659.6" x2="47.5" y2="659.6"/>
<line x1="641.8" y1="659.6" x2="644.8" y2="659.6"/>
<line x1="44.5" y1="610.2" x2="47.5" y2="610.2"/>
<line x1="641.8" y1="610.2" x2="644.8" y2="610.2"/>
<line x1="47.5" y1="857.7" x2="47.5" y2="860.7"/>
<line x1="61.65" y1="857.7" x2="61.65" y2="860.7"/>
<line x1="75.8" y1="857.7" x2="75.8" y2="860.7"/>
<line x1="89.95" y1="857.7" x2="89.95" y2="860.7"/>
<line x1="104.1" y1="857.7" x2="104.1" y2="860.7"/>
<line x1="118.25" y1="857.7" x2="118.25" y2="860.7"/>
<line x1="132.4" y1="857.7" x2="132.4" y2="860.7"/>
<line x1="146.55" y1="857.7" x2="146.55" y2="860.7"/>
<line x1="160.7" y1="857.7" x2="160.7" y2="860.7"/>
<line x1="174.85" y1="857.7" x2="174.85" y2="860.7"/>
<line x1="189" y1="857.7" x2="189" y2="860.7"/>
<line x1="203.15" y1="857.7" x2="203.15" y2="860.7"/>
<line x1="217.3" y1="857.7" x2="217.3" y2="860.7"/>
<line x1="231.45" y1="857.7" x2="231.45" y2="860.7"/>
<line x1="245.6" y1="857.7" x2="245.6" y2="860.7"/>
<line x1="259.75" y1="857.7" x2="259.75" y2="860.7"/>
<line x1="273.9" y1="857.7" x2="273.9" y2="860.7"/>
<line x1="288.05" y1="857.7" x2="288.05" y2="860.7"/>
<line x1="302.2" y1="857.7" x2="302.2" y2="860.7"/>
<line x1="316.35" y1="857.7" x2="316.35" y2="860.7"/>
<line x1="330.5" y1="857.7" x2="330.5" y2="860.7"/>
<line x1="344.65" y1="857.7" x2="344.65" y2="860.7"/>
<line x1="358.8" y1="857.7" x2="358.8" y2="860.7"/>
<line x1="372.95" y1="857.7" x2="372.95" y2="860.7"/>
<line x1="387.1" y1="857.7" x2="387.1" y2="860.7"/>
<line x1="401.25" y1="857.7" x2="401.25" y2="860.7"/>
<line x1="415.4" y1="857.7" x2="415.4" y2="860.7"/>
<line x1="429.55" y1="857.7" x2="429.55" y2="860.7"/>
<line x1="443.7" y1="857.7" x2="443.7" y2="860.7"/>
<line x1="457.85" y1="857.7" x2="457.85" y2="860.7"/>
<line x1="472" y1="857.7" x2="472" y2="860.7"/>
<line x1="486.15" y1="857.7" x2="486.15" y2="860.7"/>
<line x1="500.3" y1="857.7" x2="500.3" y2="860.7"/>
<line x1="514.45" y1="857.7" x2="514.45" y2="860.7"/>
<line x1="528.6" y1="857.7" x2="528.6" y2="860.7"/>
<line x1="542.75" y1="857.7" x2="542.75" y2="860.7"/>
<line x1="556.9" y1="857.7" x2="556.9" y2="860.7"/>
<line x1="571.05" y1="857.7" x2="571.05" y2="860.7"/>
<line x1="585.2" y1="857.7" x2="585.2" y2="860.7"/>
<line x1="599.35" y1="857.7" x2="599.35" y2="860.7"/>
<line x1="613.5" y1="857.7" x2="613.5" y2="860.7"/>
<line x1="627.65" y1="857.7" x2="627.65" y2="860.7"/>
<line x1="641.8" y1="857.7" x2="641.8" y2="860.7"/>
</g>
<polyline fill="none" stroke="#4a7ebb" stroke-width="2.3" stroke-linejoin="round" points="54.58,793.8 68.72,782.6 82.88,846.1 97.02,852.2 111.17,829.5 125.32,817.6 139.47,852.3 153.62,855.6 167.77,850.3 181.92,856.4"/>
<polyline fill="none" stroke="#4a7ebb" stroke-width="2.3" stroke-linejoin="round" points="252.67,856.8 266.82,763.5 280.97,757.1 295.12,806.5 309.27,819.8 323.42,794 337.57,785.7 351.72,854.2 365.87,852.8 380.02,854.2 394.17,856.4 408.32,855 422.47,856.4"/>
<polyline fill="none" stroke="#4a7ebb" stroke-width="2.3" stroke-linejoin="round" points="507.37,848.7 521.52,855.9 535.67,726.1 549.82,850.9 563.97,855.9 578.12,836.5 592.27,856.4"/>
<polyline fill="none" stroke="#be4b48" stroke-width="2.3" stroke-linejoin="round" points="54.58,856.8 68.72,856.8 82.88,853.5 97.02,856.8 111.17,856.8 125.32,856.8 139.47,856.8 153.62,856.8 167.77,856.8 181.92,856.8 196.07,856.8 210.22,856.8"/>
<polyline fill="none" stroke="#be4b48" stroke-width="2.3" stroke-linejoin="round" points="252.67,856.8 266.82,856.8 280.97,856.8 295.12,850 309.27,854.2 323.42,795.4 337.57,785.7 351.72,856.4 365.87,856.8 380.02,856.8 394.17,856.8 408.32,856.8 422.47,856.8"/>
<polyline fill="none" stroke="#be4b48" stroke-width="2.3" stroke-linejoin="round" points="507.37,856.4 521.52,856.4 535.67,841.7 549.82,855.9 563.97,856.4 578.12,856.4 592.27,856.4"/>
<rect x="86.4" y="807.5" width="2.2" height="24.6" fill="#000"/>
<polygon fill="#000" points="82.25,831.1 92.75,831.1 87.5,840.8"/>
<rect x="304.9" y="772.7" width="2.2" height="25.1" fill="#000"/>
<polygon fill="#000" points="300.75,796.8 311.25,796.8 306,806"/>
<text x="38" y="856.8" font-size="10.2" text-anchor="end" dominant-baseline="central" fill="#1a1a1a">0</text>
<text x="651.8" y="856.8" font-size="10.2" text-anchor="start" dominant-baseline="central" fill="#1a1a1a">0</text>
<text x="38" y="807.48" font-size="10.2" text-anchor="end" dominant-baseline="central" fill="#1a1a1a">2</text>
<text x="651.8" y="807.48" font-size="10.2" text-anchor="start" dominant-baseline="central" fill="#1a1a1a">20</text>
<text x="38" y="758.16" font-size="10.2" text-anchor="end" dominant-baseline="central" fill="#1a1a1a">4</text>
<text x="651.8" y="758.16" font-size="10.2" text-anchor="start" dominant-baseline="central" fill="#1a1a1a">40</text>
<text x="38" y="708.84" font-size="10.2" text-anchor="end" dominant-baseline="central" fill="#1a1a1a">6</text>
<text x="651.8" y="708.84" font-size="10.2" text-anchor="start" dominant-baseline="central" fill="#1a1a1a">60</text>
<text x="38" y="659.52" font-size="10.2" text-anchor="end" dominant-baseline="central" fill="#1a1a1a">8</text>
<text x="651.8" y="659.52" font-size="10.2" text-anchor="start" dominant-baseline="central" fill="#1a1a1a">80</text>
<text x="38" y="610.2" font-size="10.2" text-anchor="end" dominant-baseline="central" fill="#1a1a1a">10</text>
<text x="651.8" y="610.2" font-size="10.2" text-anchor="start" dominant-baseline="central" fill="#1a1a1a">100</text>
<text transform="translate(55.98,864.1) rotate(-90)" font-size="10.8" text-anchor="end" dominant-baseline="central" textLength="14.82" lengthAdjust="spacingAndGlyphs" fill="#1a1a1a">Jan</text>
<text transform="translate(70.12,864.1) rotate(-90)" font-size="10.8" text-anchor="end" dominant-baseline="central" textLength="16.6" lengthAdjust="spacingAndGlyphs" fill="#1a1a1a">Feb</text>
<text transform="translate(84.28,864.1) rotate(-90)" font-size="10.8" text-anchor="end" dominant-baseline="central" textLength="18.85" lengthAdjust="spacingAndGlyphs" fill="#1a1a1a">Mar</text>
<text transform="translate(98.42,864.1) rotate(-90)" font-size="10.8" text-anchor="end" dominant-baseline="central" textLength="16.27" lengthAdjust="spacingAndGlyphs" fill="#1a1a1a">Apr</text>
<text transform="translate(112.58,864.1) rotate(-90)" font-size="10.8" text-anchor="end" dominant-baseline="central" textLength="20.01" lengthAdjust="spacingAndGlyphs" fill="#1a1a1a">May</text>
<text transform="translate(126.72,864.1) rotate(-90)" font-size="10.8" text-anchor="end" dominant-baseline="central" textLength="15.33" lengthAdjust="spacingAndGlyphs" fill="#1a1a1a">Jun</text>
<text transform="translate(140.88,864.1) rotate(-90)" font-size="10.8" text-anchor="end" dominant-baseline="central" textLength="12.02" lengthAdjust="spacingAndGlyphs" fill="#1a1a1a">Jul</text>
<text transform="translate(155.03,864.1) rotate(-90)" font-size="10.8" text-anchor="end" dominant-baseline="central" textLength="17.64" lengthAdjust="spacingAndGlyphs" fill="#1a1a1a">Aug</text>
<text transform="translate(169.17,864.1) rotate(-90)" font-size="10.8" text-anchor="end" dominant-baseline="central" textLength="16.6" lengthAdjust="spacingAndGlyphs" fill="#1a1a1a">Sep</text>
<text transform="translate(183.32,864.1) rotate(-90)" font-size="10.8" text-anchor="end" dominant-baseline="central" textLength="15.9" lengthAdjust="spacingAndGlyphs" fill="#1a1a1a">Oct</text>
<text transform="translate(197.47,864.1) rotate(-90)" font-size="10.8" text-anchor="end" dominant-baseline="central" textLength="18.2" lengthAdjust="spacingAndGlyphs" fill="#1a1a1a">Nov</text>
<text transform="translate(211.62,864.1) rotate(-90)" font-size="10.8" text-anchor="end" dominant-baseline="central" textLength="17.2" lengthAdjust="spacingAndGlyphs" fill="#1a1a1a">Dec</text>
<text transform="translate(268.22,864.1) rotate(-90)" font-size="10.8" text-anchor="end" dominant-baseline="central" textLength="14.82" lengthAdjust="spacingAndGlyphs" fill="#1a1a1a">Jan</text>
<text transform="translate(282.37,864.1) rotate(-90)" font-size="10.8" text-anchor="end" dominant-baseline="central" textLength="16.6" lengthAdjust="spacingAndGlyphs" fill="#1a1a1a">Feb</text>
<text transform="translate(296.52,864.1) rotate(-90)" font-size="10.8" text-anchor="end" dominant-baseline="central" textLength="18.85" lengthAdjust="spacingAndGlyphs" fill="#1a1a1a">Mar</text>
<text transform="translate(310.67,864.1) rotate(-90)" font-size="10.8" text-anchor="end" dominant-baseline="central" textLength="16.27" lengthAdjust="spacingAndGlyphs" fill="#1a1a1a">Apr</text>
<text transform="translate(324.82,864.1) rotate(-90)" font-size="10.8" text-anchor="end" dominant-baseline="central" textLength="20.01" lengthAdjust="spacingAndGlyphs" fill="#1a1a1a">May</text>
<text transform="translate(338.97,864.1) rotate(-90)" font-size="10.8" text-anchor="end" dominant-baseline="central" textLength="15.33" lengthAdjust="spacingAndGlyphs" fill="#1a1a1a">Jun</text>
<text transform="translate(353.12,864.1) rotate(-90)" font-size="10.8" text-anchor="end" dominant-baseline="central" textLength="12.02" lengthAdjust="spacingAndGlyphs" fill="#1a1a1a">Jul</text>
<text transform="translate(367.27,864.1) rotate(-90)" font-size="10.8" text-anchor="end" dominant-baseline="central" textLength="17.64" lengthAdjust="spacingAndGlyphs" fill="#1a1a1a">Aug</text>
<text transform="translate(381.42,864.1) rotate(-90)" font-size="10.8" text-anchor="end" dominant-baseline="central" textLength="16.6" lengthAdjust="spacingAndGlyphs" fill="#1a1a1a">Sep</text>
<text transform="translate(395.57,864.1) rotate(-90)" font-size="10.8" text-anchor="end" dominant-baseline="central" textLength="15.9" lengthAdjust="spacingAndGlyphs" fill="#1a1a1a">Oct</text>
<text transform="translate(409.72,864.1) rotate(-90)" font-size="10.8" text-anchor="end" dominant-baseline="central" textLength="18.2" lengthAdjust="spacingAndGlyphs" fill="#1a1a1a">Nov</text>
<text transform="translate(423.87,864.1) rotate(-90)" font-size="10.8" text-anchor="end" dominant-baseline="central" textLength="17.2" lengthAdjust="spacingAndGlyphs" fill="#1a1a1a">Dec</text>
<text transform="translate(480.47,864.1) rotate(-90)" font-size="10.8" text-anchor="end" dominant-baseline="central" textLength="14.82" lengthAdjust="spacingAndGlyphs" fill="#1a1a1a">Jan</text>
<text transform="translate(494.62,864.1) rotate(-90)" font-size="10.8" text-anchor="end" dominant-baseline="central" textLength="16.6" lengthAdjust="spacingAndGlyphs" fill="#1a1a1a">Feb</text>
<text transform="translate(508.77,864.1) rotate(-90)" font-size="10.8" text-anchor="end" dominant-baseline="central" textLength="18.85" lengthAdjust="spacingAndGlyphs" fill="#1a1a1a">Mar</text>
<text transform="translate(522.92,864.1) rotate(-90)" font-size="10.8" text-anchor="end" dominant-baseline="central" textLength="16.27" lengthAdjust="spacingAndGlyphs" fill="#1a1a1a">Apr</text>
<text transform="translate(537.07,864.1) rotate(-90)" font-size="10.8" text-anchor="end" dominant-baseline="central" textLength="20.01" lengthAdjust="spacingAndGlyphs" fill="#1a1a1a">May</text>
<text transform="translate(551.22,864.1) rotate(-90)" font-size="10.8" text-anchor="end" dominant-baseline="central" textLength="15.33" lengthAdjust="spacingAndGlyphs" fill="#1a1a1a">Jun</text>
<text transform="translate(565.37,864.1) rotate(-90)" font-size="10.8" text-anchor="end" dominant-baseline="central" textLength="12.02" lengthAdjust="spacingAndGlyphs" fill="#1a1a1a">Jul</text>
<text transform="translate(579.52,864.1) rotate(-90)" font-size="10.8" text-anchor="end" dominant-baseline="central" textLength="17.64" lengthAdjust="spacingAndGlyphs" fill="#1a1a1a">Aug</text>
<text transform="translate(593.67,864.1) rotate(-90)" font-size="10.8" text-anchor="end" dominant-baseline="central" textLength="16.6" lengthAdjust="spacingAndGlyphs" fill="#1a1a1a">Sep</text>
<text transform="translate(607.82,864.1) rotate(-90)" font-size="10.8" text-anchor="end" dominant-baseline="central" textLength="15.9" lengthAdjust="spacingAndGlyphs" fill="#1a1a1a">Oct</text>
<text transform="translate(621.97,864.1) rotate(-90)" font-size="10.8" text-anchor="end" dominant-baseline="central" textLength="18.2" lengthAdjust="spacingAndGlyphs" fill="#1a1a1a">Nov</text>
<text transform="translate(636.12,864.1) rotate(-90)" font-size="10.8" text-anchor="end" dominant-baseline="central" textLength="17.2" lengthAdjust="spacingAndGlyphs" fill="#1a1a1a">Dec</text>
<text x="87.7" y="626.2" font-size="10.8" textLength="111.4" lengthAdjust="spacingAndGlyphs" fill="#1a1a1a">Musoma Rural (sprayed)</text>
<text x="301.7" y="629.5" font-size="10.8" textLength="82.9" lengthAdjust="spacingAndGlyphs" fill="#1a1a1a">Butiama (sprayed)</text>
<text x="513.2" y="629.5" font-size="10.8" textLength="87.6" lengthAdjust="spacingAndGlyphs" fill="#1a1a1a">Tarime (unsprayed)</text>
<text transform="translate(19.1,733.7) rotate(-90)" font-size="10.5" text-anchor="middle" dominant-baseline="central" textLength="119" lengthAdjust="spacingAndGlyphs" fill="#1a1a1a">Bites per person per night</text>
<text transform="translate(676.9,736.2) rotate(-90)" font-size="10.5" text-anchor="middle" dominant-baseline="central" textLength="112" lengthAdjust="spacingAndGlyphs" fill="#1a1a1a">Est. precipitation (mm)</text>
<text class="lbl" x="0.5" y="611" font-size="20" font-weight="bold" fill="#000">c</text>
<polygon fill="#d7e4bd" points="54.07,1171.8 54.07,1091.5 68.21,1071.6 82.35,1086 96.48,1088.2 110.62,1129 124.76,1169.2 138.9,1166.4 153.04,1167.8 167.17,1136.5 181.31,1119.8 195.45,1079.9 209.59,1112.3 209.59,1171.8"/>
<polygon fill="#d7e4bd" points="252,1171.8 266.14,1091.5 280.28,1071.6 294.42,1086 308.55,1088.2 322.69,1129 336.83,1169.2 350.97,1166.4 365.11,1167.8 379.25,1136.5 393.38,1119.8 407.52,1079.9 421.66,1112.3 421.66,1171.8"/>
<polygon fill="#d7e4bd" points="464.07,1171.8 478.21,1024 492.35,1040.5 506.49,1071 520.63,1076.5 534.76,1150.9 548.9,1171.8 563.04,1171.8 577.18,1171.8 591.32,1156 605.45,1134.2 619.59,1061.8 633.73,1075.1 633.73,1171.8"/>
<g stroke="#d6d6d6" stroke-width="1.8" fill="none">
<line x1="47" y1="923.6" x2="47" y2="1171.8"/>
<line x1="640.8" y1="923.6" x2="640.8" y2="1171.8"/>
<line x1="47" y1="1171.8" x2="640.8" y2="1171.8"/>
</g><g stroke="#a8a8a8" stroke-width="1" fill="none">
<line x1="44" y1="1171.8" x2="47" y2="1171.8"/>
<line x1="640.8" y1="1171.8" x2="643.8" y2="1171.8"/>
<line x1="44" y1="1122.16" x2="47" y2="1122.16"/>
<line x1="640.8" y1="1122.16" x2="643.8" y2="1122.16"/>
<line x1="44" y1="1072.52" x2="47" y2="1072.52"/>
<line x1="640.8" y1="1072.52" x2="643.8" y2="1072.52"/>
<line x1="44" y1="1022.88" x2="47" y2="1022.88"/>
<line x1="640.8" y1="1022.88" x2="643.8" y2="1022.88"/>
<line x1="44" y1="973.24" x2="47" y2="973.24"/>
<line x1="640.8" y1="973.24" x2="643.8" y2="973.24"/>
<line x1="44" y1="923.6" x2="47" y2="923.6"/>
<line x1="640.8" y1="923.6" x2="643.8" y2="923.6"/>
<line x1="47" y1="1172.7" x2="47" y2="1175.3"/>
<line x1="61.14" y1="1172.7" x2="61.14" y2="1175.3"/>
<line x1="75.28" y1="1172.7" x2="75.28" y2="1175.3"/>
<line x1="89.41" y1="1172.7" x2="89.41" y2="1175.3"/>
<line x1="103.55" y1="1172.7" x2="103.55" y2="1175.3"/>
<line x1="117.69" y1="1172.7" x2="117.69" y2="1175.3"/>
<line x1="131.83" y1="1172.7" x2="131.83" y2="1175.3"/>
<line x1="145.97" y1="1172.7" x2="145.97" y2="1175.3"/>
<line x1="160.1" y1="1172.7" x2="160.1" y2="1175.3"/>
<line x1="174.24" y1="1172.7" x2="174.24" y2="1175.3"/>
<line x1="188.38" y1="1172.7" x2="188.38" y2="1175.3"/>
<line x1="202.52" y1="1172.7" x2="202.52" y2="1175.3"/>
<line x1="216.66" y1="1172.7" x2="216.66" y2="1175.3"/>
<line x1="230.8" y1="1172.7" x2="230.8" y2="1175.3"/>
<line x1="244.93" y1="1172.7" x2="244.93" y2="1175.3"/>
<line x1="259.07" y1="1172.7" x2="259.07" y2="1175.3"/>
<line x1="273.21" y1="1172.7" x2="273.21" y2="1175.3"/>
<line x1="287.35" y1="1172.7" x2="287.35" y2="1175.3"/>
<line x1="301.49" y1="1172.7" x2="301.49" y2="1175.3"/>
<line x1="315.62" y1="1172.7" x2="315.62" y2="1175.3"/>
<line x1="329.76" y1="1172.7" x2="329.76" y2="1175.3"/>
<line x1="343.9" y1="1172.7" x2="343.9" y2="1175.3"/>
<line x1="358.04" y1="1172.7" x2="358.04" y2="1175.3"/>
<line x1="372.18" y1="1172.7" x2="372.18" y2="1175.3"/>
<line x1="386.31" y1="1172.7" x2="386.31" y2="1175.3"/>
<line x1="400.45" y1="1172.7" x2="400.45" y2="1175.3"/>
<line x1="414.59" y1="1172.7" x2="414.59" y2="1175.3"/>
<line x1="428.73" y1="1172.7" x2="428.73" y2="1175.3"/>
<line x1="442.87" y1="1172.7" x2="442.87" y2="1175.3"/>
<line x1="457" y1="1172.7" x2="457" y2="1175.3"/>
<line x1="471.14" y1="1172.7" x2="471.14" y2="1175.3"/>
<line x1="485.28" y1="1172.7" x2="485.28" y2="1175.3"/>
<line x1="499.42" y1="1172.7" x2="499.42" y2="1175.3"/>
<line x1="513.56" y1="1172.7" x2="513.56" y2="1175.3"/>
<line x1="527.7" y1="1172.7" x2="527.7" y2="1175.3"/>
<line x1="541.83" y1="1172.7" x2="541.83" y2="1175.3"/>
<line x1="555.97" y1="1172.7" x2="555.97" y2="1175.3"/>
<line x1="570.11" y1="1172.7" x2="570.11" y2="1175.3"/>
<line x1="584.25" y1="1172.7" x2="584.25" y2="1175.3"/>
<line x1="598.39" y1="1172.7" x2="598.39" y2="1175.3"/>
<line x1="612.52" y1="1172.7" x2="612.52" y2="1175.3"/>
<line x1="626.66" y1="1172.7" x2="626.66" y2="1175.3"/>
<line x1="640.8" y1="1172.7" x2="640.8" y2="1175.3"/>
</g>
<polyline fill="none" stroke="#4a7ebb" stroke-width="2.3" stroke-linejoin="round" points="82.35,1141.5 96.48,1127 110.62,1137.9 124.76,1169.8 138.9,1171.4"/>
<polyline fill="none" stroke="#4a7ebb" stroke-width="2.3" stroke-linejoin="round" points="294.42,1165.6 308.55,1156.7 322.69,1098.5 336.83,1168.4 350.97,1169.8 365.11,1171.8"/>
<polyline fill="none" stroke="#4a7ebb" stroke-width="2.3" stroke-linejoin="round" points="464.07,1171.8 478.21,1028 492.35,1028 506.49,1039.1 520.63,1092.6 534.76,971.7 548.9,1154.2 563.04,1170.8"/>
<polyline fill="none" stroke="#4a7ebb" stroke-width="2.3" stroke-linejoin="round" points="591.32,1171.4 605.45,1164 619.59,1152.7 633.73,1153.8"/>
<polyline fill="none" stroke="#be4b48" stroke-width="2.3" stroke-linejoin="round" points="82.35,1171.8 96.48,1171.8 110.62,1171.8 124.76,1171.8 138.9,1171.8 153.04,1171.8 167.17,1171.8"/>
<polyline fill="none" stroke="#be4b48" stroke-width="2.3" stroke-linejoin="round" points="294.42,1171.4 308.55,1171.2 322.69,1168.4 336.83,1169.2 350.97,1168.4 365.11,1171.4 379.25,1171.4"/>
<polyline fill="none" stroke="#be4b48" stroke-width="2.3" stroke-linejoin="round" points="464.07,1171.8 478.21,1170.3 492.35,1166.1 506.49,1170.3 520.63,1171.4 534.76,1165.9 548.9,1171.4 563.04,1170.8 577.18,1170.8 591.32,1171.4 605.45,1171.4 619.59,1170.3 633.73,1171.4"/>
<rect x="131.8" y="1128.2" width="2.2" height="26.8" fill="#000"/>
<polygon fill="#000" points="128.2,1154 137.6,1154 132.9,1164.2"/>
<rect x="307.1" y="1135.1" width="2.2" height="24.6" fill="#000"/>
<polygon fill="#000" points="303.6,1158.7 312.8,1158.7 308.2,1167.8"/>
<text x="36.9" y="1171.8" font-size="10.3" text-anchor="end" dominant-baseline="central" fill="#1a1a1a">0</text>
<text x="650.8" y="1171.8" font-size="10.3" text-anchor="start" dominant-baseline="central" fill="#1a1a1a">0</text>
<text x="36.9" y="1122.16" font-size="10.3" text-anchor="end" dominant-baseline="central" fill="#1a1a1a">2</text>
<text x="650.8" y="1122.16" font-size="10.3" text-anchor="start" dominant-baseline="central" fill="#1a1a1a">20</text>
<text x="36.9" y="1072.52" font-size="10.3" text-anchor="end" dominant-baseline="central" fill="#1a1a1a">4</text>
<text x="650.8" y="1072.52" font-size="10.3" text-anchor="start" dominant-baseline="central" fill="#1a1a1a">40</text>
<text x="36.9" y="1022.88" font-size="10.3" text-anchor="end" dominant-baseline="central" fill="#1a1a1a">6</text>
<text x="650.8" y="1022.88" font-size="10.3" text-anchor="start" dominant-baseline="central" fill="#1a1a1a">60</text>
<text x="36.9" y="973.24" font-size="10.3" text-anchor="end" dominant-baseline="central" fill="#1a1a1a">8</text>
<text x="650.8" y="973.24" font-size="10.3" text-anchor="start" dominant-baseline="central" fill="#1a1a1a">80</text>
<text x="36.9" y="923.6" font-size="10.3" text-anchor="end" dominant-baseline="central" fill="#1a1a1a">10</text>
<text x="650.8" y="923.6" font-size="10.3" text-anchor="start" dominant-baseline="central" fill="#1a1a1a">100</text>
<text transform="translate(55.57,1178.9) rotate(-90)" font-size="10.4" text-anchor="end" dominant-baseline="central" textLength="14.29" lengthAdjust="spacingAndGlyphs" fill="#1a1a1a">Jan</text>
<text transform="translate(69.71,1178.9) rotate(-90)" font-size="10.4" text-anchor="end" dominant-baseline="central" textLength="16.01" lengthAdjust="spacingAndGlyphs" fill="#1a1a1a">Feb</text>
<text transform="translate(83.85,1178.9) rotate(-90)" font-size="10.4" text-anchor="end" dominant-baseline="central" textLength="18.18" lengthAdjust="spacingAndGlyphs" fill="#1a1a1a">Mar</text>
<text transform="translate(97.98,1178.9) rotate(-90)" font-size="10.4" text-anchor="end" dominant-baseline="central" textLength="15.69" lengthAdjust="spacingAndGlyphs" fill="#1a1a1a">Apr</text>
<text transform="translate(112.12,1178.9) rotate(-90)" font-size="10.4" text-anchor="end" dominant-baseline="central" textLength="19.3" lengthAdjust="spacingAndGlyphs" fill="#1a1a1a">May</text>
<text transform="translate(126.26,1178.9) rotate(-90)" font-size="10.4" text-anchor="end" dominant-baseline="central" textLength="14.79" lengthAdjust="spacingAndGlyphs" fill="#1a1a1a">Jun</text>
<text transform="translate(140.4,1178.9) rotate(-90)" font-size="10.4" text-anchor="end" dominant-baseline="central" textLength="11.59" lengthAdjust="spacingAndGlyphs" fill="#1a1a1a">Jul</text>
<text transform="translate(154.54,1178.9) rotate(-90)" font-size="10.4" text-anchor="end" dominant-baseline="central" textLength="17.01" lengthAdjust="spacingAndGlyphs" fill="#1a1a1a">Aug</text>
<text transform="translate(168.67,1178.9) rotate(-90)" font-size="10.4" text-anchor="end" dominant-baseline="central" textLength="16.01" lengthAdjust="spacingAndGlyphs" fill="#1a1a1a">Sep</text>
<text transform="translate(182.81,1178.9) rotate(-90)" font-size="10.4" text-anchor="end" dominant-baseline="central" textLength="15.34" lengthAdjust="spacingAndGlyphs" fill="#1a1a1a">Oct</text>
<text transform="translate(196.95,1178.9) rotate(-90)" font-size="10.4" text-anchor="end" dominant-baseline="central" textLength="17.55" lengthAdjust="spacingAndGlyphs" fill="#1a1a1a">Nov</text>
<text transform="translate(211.09,1178.9) rotate(-90)" font-size="10.4" text-anchor="end" dominant-baseline="central" textLength="16.59" lengthAdjust="spacingAndGlyphs" fill="#1a1a1a">Dec</text>
<text transform="translate(267.64,1178.9) rotate(-90)" font-size="10.4" text-anchor="end" dominant-baseline="central" textLength="14.29" lengthAdjust="spacingAndGlyphs" fill="#1a1a1a">Jan</text>
<text transform="translate(281.78,1178.9) rotate(-90)" font-size="10.4" text-anchor="end" dominant-baseline="central" textLength="16.01" lengthAdjust="spacingAndGlyphs" fill="#1a1a1a">Feb</text>
<text transform="translate(295.92,1178.9) rotate(-90)" font-size="10.4" text-anchor="end" dominant-baseline="central" textLength="18.18" lengthAdjust="spacingAndGlyphs" fill="#1a1a1a">Mar</text>
<text transform="translate(310.05,1178.9) rotate(-90)" font-size="10.4" text-anchor="end" dominant-baseline="central" textLength="15.69" lengthAdjust="spacingAndGlyphs" fill="#1a1a1a">Apr</text>
<text transform="translate(324.19,1178.9) rotate(-90)" font-size="10.4" text-anchor="end" dominant-baseline="central" textLength="19.3" lengthAdjust="spacingAndGlyphs" fill="#1a1a1a">May</text>
<text transform="translate(338.33,1178.9) rotate(-90)" font-size="10.4" text-anchor="end" dominant-baseline="central" textLength="14.79" lengthAdjust="spacingAndGlyphs" fill="#1a1a1a">Jun</text>
<text transform="translate(352.47,1178.9) rotate(-90)" font-size="10.4" text-anchor="end" dominant-baseline="central" textLength="11.59" lengthAdjust="spacingAndGlyphs" fill="#1a1a1a">Jul</text>
<text transform="translate(366.61,1178.9) rotate(-90)" font-size="10.4" text-anchor="end" dominant-baseline="central" textLength="17.01" lengthAdjust="spacingAndGlyphs" fill="#1a1a1a">Aug</text>
<text transform="translate(380.75,1178.9) rotate(-90)" font-size="10.4" text-anchor="end" dominant-baseline="central" textLength="16.01" lengthAdjust="spacingAndGlyphs" fill="#1a1a1a">Sep</text>
<text transform="translate(394.88,1178.9) rotate(-90)" font-size="10.4" text-anchor="end" dominant-baseline="central" textLength="15.34" lengthAdjust="spacingAndGlyphs" fill="#1a1a1a">Oct</text>
<text transform="translate(409.02,1178.9) rotate(-90)" font-size="10.4" text-anchor="end" dominant-baseline="central" textLength="17.55" lengthAdjust="spacingAndGlyphs" fill="#1a1a1a">Nov</text>
<text transform="translate(423.16,1178.9) rotate(-90)" font-size="10.4" text-anchor="end" dominant-baseline="central" textLength="16.59" lengthAdjust="spacingAndGlyphs" fill="#1a1a1a">Dec</text>
<text transform="translate(479.71,1178.9) rotate(-90)" font-size="10.4" text-anchor="end" dominant-baseline="central" textLength="14.29" lengthAdjust="spacingAndGlyphs" fill="#1a1a1a">Jan</text>
<text transform="translate(493.85,1178.9) rotate(-90)" font-size="10.4" text-anchor="end" dominant-baseline="central" textLength="16.01" lengthAdjust="spacingAndGlyphs" fill="#1a1a1a">Feb</text>
<text transform="translate(507.99,1178.9) rotate(-90)" font-size="10.4" text-anchor="end" dominant-baseline="central" textLength="18.18" lengthAdjust="spacingAndGlyphs" fill="#1a1a1a">Mar</text>
<text transform="translate(522.13,1178.9) rotate(-90)" font-size="10.4" text-anchor="end" dominant-baseline="central" textLength="15.69" lengthAdjust="spacingAndGlyphs" fill="#1a1a1a">Apr</text>
<text transform="translate(536.26,1178.9) rotate(-90)" font-size="10.4" text-anchor="end" dominant-baseline="central" textLength="19.3" lengthAdjust="spacingAndGlyphs" fill="#1a1a1a">May</text>
<text transform="translate(550.4,1178.9) rotate(-90)" font-size="10.4" text-anchor="end" dominant-baseline="central" textLength="14.79" lengthAdjust="spacingAndGlyphs" fill="#1a1a1a">Jun</text>
<text transform="translate(564.54,1178.9) rotate(-90)" font-size="10.4" text-anchor="end" dominant-baseline="central" textLength="11.59" lengthAdjust="spacingAndGlyphs" fill="#1a1a1a">Jul</text>
<text transform="translate(578.68,1178.9) rotate(-90)" font-size="10.4" text-anchor="end" dominant-baseline="central" textLength="17.01" lengthAdjust="spacingAndGlyphs" fill="#1a1a1a">Aug</text>
<text transform="translate(592.82,1178.9) rotate(-90)" font-size="10.4" text-anchor="end" dominant-baseline="central" textLength="16.01" lengthAdjust="spacingAndGlyphs" fill="#1a1a1a">Sep</text>
<text transform="translate(606.95,1178.9) rotate(-90)" font-size="10.4" text-anchor="end" dominant-baseline="central" textLength="15.34" lengthAdjust="spacingAndGlyphs" fill="#1a1a1a">Oct</text>
<text transform="translate(621.09,1178.9) rotate(-90)" font-size="10.4" text-anchor="end" dominant-baseline="central" textLength="17.55" lengthAdjust="spacingAndGlyphs" fill="#1a1a1a">Nov</text>
<text transform="translate(635.23,1178.9) rotate(-90)" font-size="10.4" text-anchor="end" dominant-baseline="central" textLength="16.59" lengthAdjust="spacingAndGlyphs" fill="#1a1a1a">Dec</text>
<text x="104.3" y="958.8" font-size="8.8" textLength="57.3" lengthAdjust="spacingAndGlyphs" fill="#1a1a1a">Geita (sprayed)</text>
<text x="299.3" y="958.8" font-size="8.8" textLength="86" lengthAdjust="spacingAndGlyphs" fill="#1a1a1a">Nyang’hwale (sprayed)</text>
<text x="494.5" y="958.8" font-size="8.8" textLength="81.8" lengthAdjust="spacingAndGlyphs" fill="#1a1a1a">Bukombe (unsprayed)</text>
<text transform="translate(18.3,1048.1) rotate(-90)" font-size="9.5" text-anchor="middle" dominant-baseline="central" textLength="105.4" lengthAdjust="spacingAndGlyphs" fill="#1a1a1a">Bites per person per night</text>
<text transform="translate(676.7,1050.5) rotate(-90)" font-size="9.5" text-anchor="middle" dominant-baseline="central" textLength="108" lengthAdjust="spacingAndGlyphs" fill="#1a1a1a">Est. precipitation (mm)</text>
<text class="lbl" x="0.5" y="923.6" font-size="20" font-weight="bold" fill="#000">d</text>
<rect x="242" y="8.3" width="6.6" height="3.8" fill="#d7e4bd"/>
<text x="249.6" y="12.4" font-size="6.2" textLength="21.2" lengthAdjust="spacingAndGlyphs" fill="#1a1a1a">Rainfall</text>
<line x1="301.1" y1="10.1" x2="309.9" y2="10.1" stroke="#4a7ebb" stroke-width="1.7"/>
<text x="310" y="12.5" font-size="6.4" font-style="italic" textLength="44.7" lengthAdjust="spacingAndGlyphs" fill="#1a1a1a">An. gambiae s.l.</text>
<line x1="385.4" y1="10.1" x2="393.7" y2="10.1" stroke="#be4b48" stroke-width="1.7"/>
<text x="393.8" y="12.5" font-size="6.4" font-style="italic" textLength="44.6" lengthAdjust="spacingAndGlyphs" fill="#1a1a1a">An. funestus s.l.</text>
</svg>
</body></html>
